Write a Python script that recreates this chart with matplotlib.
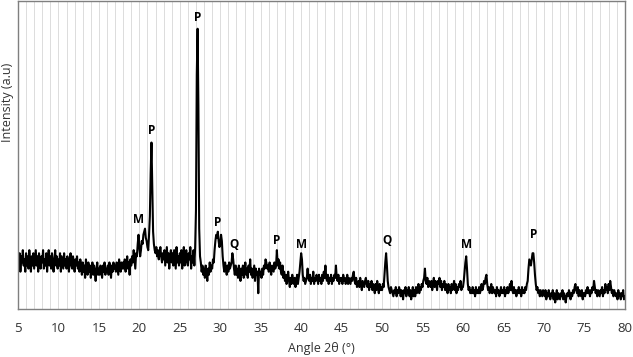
import numpy as np
import matplotlib
matplotlib.use("Agg")
import matplotlib.pyplot as plt
from matplotlib.ticker import MultipleLocator

# Scan grid: 2-theta start and step (degrees)
angle_start = 5.0
angle_step = 0.1

# Intensity (a.u.), one row per degree (d.0 ... d.9)
intensity = [
    16,13,18,12,17,15,19,14,16,12,   # 5
    18,14,17,13,19,15,12,17,14,18,   # 6
    13,16,19,14,17,12,18,15,13,17,   # 7
    15,19,13,16,14,18,12,16,19,14,   # 8
    17,13,18,15,12,16,19,14,17,13,   # 9
    16,14,18,12,17,15,13,18,14,16,   # 10
    13,17,15,12,16,18,14,13,17,15,   # 11
    12,16,14,17,13,15,12,16,14,11,   # 12
    15,12,14,10,16,13,11,15,12,14,   # 13
    10,13,15,11,14,12,9,13,15,11,    # 14
    13,11,14,12,10,14,12,15,11,13,   # 15
    12,14,11,15,13,10,14,12,15,13,   # 16
    14,12,15,13,11,16,14,12,15,13,   # 17
    15,13,16,12,14,17,13,15,11,16,   # 18
    14,17,15,19,16,13,18,17,21,24,   # 19
    20,17,19,22,21,24,25,26,23,22,   # 20
    20,19,24,30,44,54,40,25,21,19,   # 21
    18,20,17,19,16,18,20,17,15,18,   # 22
    16,19,14,17,20,15,18,13,17,19,   # 23
    15,18,14,19,16,13,20,15,17,14,   # 24
    18,15,19,13,17,20,14,16,19,15,   # 25
    14,18,16,20,13,17,15,19,14,20,   # 26
    32,76,91,66,26,17,15,12,14,11,   # 27
    13,10,14,12,9,13,11,15,12,14,    # 28
    13,16,15,19,22,24,23,25,22,20,   # 29
    21,24,22,17,14,12,15,13,11,14,   # 30
    12,15,13,14,15,18,16,13,11,14,   # 31
    11,13,10,14,12,9,13,11,14,10,    # 32
    12,15,11,13,10,14,12,16,11,13,   # 33
    10,12,14,9,13,11,12,5,13,11,     # 34
    12,10,13,11,14,13,16,15,13,14,   # 35
    12,15,13,11,14,13,12,15,13,14,   # 36
    19,14,16,13,15,12,11,14,10,12,   # 37
    9,11,8,10,12,9,7,10,8,11,        # 38
    9,8,10,7,9,11,8,10,12,15,        # 39
    18,16,11,9,10,8,9,10,13,10,      # 40
    9,11,8,10,9,12,8,10,9,11,        # 41
    10,8,11,9,10,8,11,9,12,10,       # 42
    14,10,9,11,8,10,9,11,8,10,       # 43
    9,11,10,14,10,9,11,8,10,9,       # 44
    10,8,11,9,10,8,9,11,8,10,        # 45
    9,8,10,9,11,12,9,8,10,7,         # 46
    8,9,7,10,8,6,9,8,7,9,            # 47
    10,8,7,9,6,8,7,9,6,8,            # 48
    7,5,8,6,9,7,5,8,6,7,             # 49
    6,8,7,11,15,18,14,9,7,6,         # 50
    5,7,6,5,4,6,5,7,4,6,             # 51
    5,7,6,4,6,5,3,6,5,7,             # 52
    4,6,5,7,4,6,3,5,7,4,             # 53
    6,4,7,5,6,8,5,7,6,8,             # 54
    7,9,10,13,9,8,10,7,9,8,          # 55
    7,9,6,8,10,7,9,8,6,9,            # 56
    8,10,7,9,6,8,7,9,6,8,            # 57
    7,5,8,6,7,5,8,6,7,9,             # 58
    6,8,5,7,6,8,7,9,6,7,             # 59
    7,9,12,15,17,13,8,6,7,5,         # 60
    6,5,7,5,6,4,7,5,6,5,             # 61
    7,5,6,8,6,7,9,8,10,11,           # 62
    8,6,7,5,6,8,5,7,6,5,             # 63
    6,4,7,5,6,4,5,7,5,6,             # 64
    5,7,4,6,5,7,5,6,8,6,             # 65
    9,6,5,7,5,6,4,6,5,7,             # 66
    5,6,4,7,5,6,5,7,6,8,             # 67
    9,13,16,15,14,16,18,18,15,11,    # 68
    8,6,7,5,6,4,6,5,4,6,             # 69
    5,4,6,3,5,4,6,4,3,5,             # 70
    4,6,3,5,2,4,6,3,5,4,             # 71
    3,5,4,6,3,5,4,2,4,5,             # 72
    4,6,5,3,5,4,6,5,7,8,             # 73
    6,5,7,4,6,5,4,6,3,5,             # 74
    5,4,6,5,7,5,6,4,6,5,             # 75
    7,6,9,7,5,6,4,6,5,4,             # 76
    6,5,7,4,6,5,8,6,7,5,             # 77
    8,6,9,7,5,6,4,6,5,4,             # 78
    5,3,6,4,5,3,5,4,6,3,             # 79
    4,                               # 80
]

# Peak labels: phase letter, angle, label height
peak_letters = ["M", "P", "P", "P", "Q", "P", "M", "Q", "M", "P"]
peak_angles  = [19.95, 21.55, 27.2, 29.7, 31.7, 37.0, 40.0, 50.6, 60.4, 68.7]
peak_heights = [29.0, 58.0, 94.5, 28.0, 21.0, 22.0, 21.0, 22.0, 21.0, 24.0]

xticks = list(range(5, 81, 5))

angles = angle_start + angle_step * np.arange(len(intensity))

plt.rcParams['font.family'] = ['Open Sans', 'DejaVu Sans']

fig = plt.figure(figsize=(6.33, 3.57), dpi=100)
ax = fig.add_axes([0.0284, 0.1356, 0.9586, 0.8614])

ax.plot(angles, intensity, color='black', linewidth=1.5, solid_joinstyle='round')

for letter, a, h in zip(peak_letters, peak_angles, peak_heights):
    ax.text(a, h, letter, ha='center', va='center', fontsize=8.5,
            fontweight='bold', color='black')

ax.set_xlim(5, 80)
ax.set_ylim(0, 100)
ax.set_xticks(xticks)
ax.set_xticklabels([str(t) for t in xticks])
ax.xaxis.set_minor_locator(MultipleLocator(1))
ax.set_yticks([])
ax.grid(True, which='both', axis='x', color='#dcdcdc', linewidth=0.7)
ax.set_axisbelow(True)
ax.tick_params(axis='x', which='both', length=0, pad=10, labelsize=9.5,
               labelcolor='#333333')

for s in ax.spines.values():
    s.set_color('#7f7f7f')
    s.set_linewidth(1.0)

ax.set_xlabel('Angle 2θ (°)', fontsize=9, color='#333333', labelpad=5)
ax.set_ylabel('Intensity (a.u)', fontsize=9, color='#333333')
ax.yaxis.set_label_coords(-0.006, 0.67)

fig.savefig('out.png', dpi=100)
